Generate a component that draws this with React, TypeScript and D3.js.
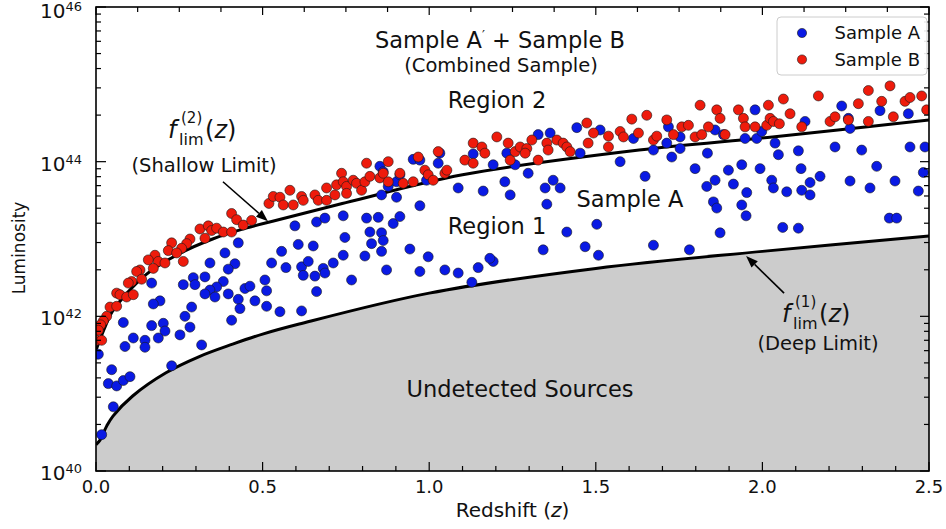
import React, { useEffect, useRef } from 'react';
import * as d3 from 'd3';

// values: redshift z and log10 of luminosity
const sampleA_z = [
  0.427, 0.387, 0.417, 0.342, 0.397, 0.527, 0.327, 0.292, 0.297, 0.262, 0.382, 0.362, 0.342, 0.327, 0.357, 0.397,
  0.427, 0.447, 0.462, 0.507, 0.512, 0.477, 0.512, 0.432, 0.552, 0.167, 0.192, 0.172, 0.287, 0.267, 0.082, 0.167,
  0.202, 0.207, 0.282, 0.252, 0.112, 0.087, 0.147, 0.147, 0.187, 0.317, 0.407, 0.007, 0.047, 0.037, 0.062, 0.082,
  0.102, 0.052, 0.017, 0.227, 0.570, 0.617, 0.617, 0.657, 0.662, 0.852, 0.862, 0.902, 0.912, 0.952, 0.972, 1.027,
  1.032, 0.992, 0.857, 0.902, 0.972, 1.087, 0.597, 0.662, 0.687, 0.742, 0.812, 0.847, 0.892, 0.912, 0.822, 0.857,
  0.862, 0.827, 0.747, 0.652, 0.607, 0.557, 0.637, 0.682, 0.687, 0.712, 0.742, 0.807, 0.857, 0.942, 0.997, 0.872,
  0.972, 1.047, 1.087, 0.767, 0.622, 1.147, 1.128, 1.192, 0.877, 1.132, 1.192, 1.233, 1.258, 1.327, 1.363, 1.443,
  1.513, 1.613, 1.453, 1.573, 1.227, 1.297, 1.372, 1.393, 1.348, 1.243, 1.353, 1.162, 1.182, 1.342, 1.413, 1.503,
  1.468, 1.508, 1.648, 1.673, 1.713, 1.718, 1.728, 1.753, 1.753, 1.798, 1.835, 1.858, 1.883, 1.948, 1.978, 1.983,
  1.998, 2.038, 2.048, 2.108, 2.128, 2.238, 2.258, 2.263, 2.353, 2.438, 2.218, 2.298, 2.443, 2.488, 2.483, 2.343,
  2.263, 2.323, 2.398, 2.468, 2.116, 2.143, 2.118, 2.143, 2.173, 2.028, 2.033, 2.073, 1.993, 1.938, 1.898, 1.913,
  1.953, 1.858, 1.833, 1.853, 1.863, 1.938, 1.951, 1.873, 2.061, 2.108, 2.381, 2.403, 1.673, 1.781,
];
const sampleA_logL = [
  42.95, 42.82, 42.68, 42.69, 42.61, 42.69, 42.51, 42.50, 42.41, 42.41, 42.45, 42.38, 42.34, 42.29, 42.25, 42.29,
  42.22, 42.36, 42.39, 42.47, 42.33, 42.20, 42.13, 42.10, 42.06, 42.43, 42.20, 42.16, 42.12, 42.00, 41.92, 41.88,
  41.91, 41.81, 41.86, 41.76, 41.72, 41.61, 41.69, 41.60, 41.72, 41.63, 41.95, 41.51, 41.31, 41.13, 41.10, 41.17,
  41.22, 40.83, 40.47, 41.36, 42.63, 42.64, 42.07, 42.52, 42.32, 43.94, 43.87, 43.74, 43.83, 44.03, 44.02, 43.98,
  44.11, 43.76, 43.57, 43.54, 43.43, 43.66, 43.17, 43.22, 43.27, 43.30, 43.27, 43.28, 43.20, 43.29, 43.09, 43.08,
  42.98, 42.94, 43.02, 42.91, 42.93, 42.84, 42.71, 42.62, 42.56, 42.69, 42.79, 42.78, 42.84, 42.87, 42.77, 42.60,
  42.58, 42.60, 42.56, 42.47, 42.53, 42.63, 42.44, 42.71, 43.68, 44.10, 43.96, 44.11, 43.96, 44.35, 44.37, 44.44,
  44.41, 44.30, 44.11, 44.00, 43.74, 43.85, 43.76, 43.66, 43.66, 43.57, 43.45, 43.62, 42.75, 42.86, 43.09, 43.19,
  42.90, 42.79, 43.81, 44.15, 44.24, 44.45, 44.06, 44.32, 44.17, 43.91, 44.11, 44.41, 44.35, 44.30, 44.67, 44.30,
  44.39, 44.24, 44.09, 44.14, 44.52, 44.72, 44.56, 44.43, 44.66, 44.62, 44.19, 44.15, 44.19, 44.19, 43.86, 43.94,
  43.75, 43.66, 43.75, 43.62, 43.91, 43.73, 43.63, 43.57, 43.81, 43.76, 43.66, 43.61, 43.91, 43.96, 43.89, 43.71,
  43.60, 43.76, 43.68, 43.48, 43.40, 43.44, 43.30, 43.08, 43.15, 43.14, 43.27, 43.27, 42.92, 42.86,
];

const sampleB_z = [
  0.407, 0.422, 0.442, 0.467, 0.519, 0.312, 0.327, 0.337, 0.347, 0.362, 0.382, 0.407, 0.282, 0.272, 0.257, 0.227,
  0.217, 0.242, 0.262, 0.177, 0.157, 0.187, 0.172, 0.207, 0.132, 0.122, 0.137, 0.107, 0.097, 0.062, 0.072, 0.092,
  0.112, 0.042, 0.062, 0.032, 0.022, 0.014, 0.007, 0.002, 0.017, 0.532, 0.552, 0.562, 0.582, 0.592, 0.617, 0.622,
  0.657, 0.667, 0.692, 0.692, 0.717, 0.722, 0.737, 0.742, 0.752, 0.772, 0.782, 0.797, 0.807, 0.812, 0.822, 0.852,
  0.862, 0.877, 0.877, 0.912, 0.922, 0.952, 0.967, 0.987, 0.997, 1.012, 1.047, 1.053, 0.752, 1.027, 1.107, 1.132,
  1.132, 1.158, 1.167, 1.203, 1.237, 1.243, 1.258, 1.273, 1.293, 1.288, 1.308, 1.327, 1.353, 1.357, 1.383, 1.402,
  1.413, 1.423, 1.473, 1.477, 1.493, 1.538, 1.538, 1.573, 1.583, 1.608, 1.628, 1.653, 1.673, 1.683, 1.713, 1.733,
  1.758, 1.778, 1.798, 1.818, 1.813, 1.838, 1.863, 1.873, 1.888, 1.928, 1.943, 1.948, 1.978, 2.013, 2.018, 2.023,
  2.033, 2.051, 2.063, 2.083, 2.118, 2.168, 2.203, 2.218, 2.258, 2.288, 2.318, 2.318, 2.358, 2.383, 2.393, 2.428,
  2.443, 2.478, 2.493,
];
const sampleB_logL = [
  43.33, 43.25, 43.18, 43.24, 43.46, 43.13, 43.01, 43.17, 43.11, 43.14, 43.09, 43.09, 43.00, 42.94, 42.88, 42.95,
  42.85, 42.82, 42.71, 42.79, 42.73, 42.71, 42.62, 42.69, 42.60, 42.58, 42.48, 42.45, 42.43, 42.30, 42.28, 42.25,
  42.28, 42.12, 42.13, 42.00, 41.94, 41.89, 41.82, 41.69, 41.69, 43.55, 43.54, 43.44, 43.63, 43.44, 43.55, 43.50,
  43.57, 43.50, 43.50, 43.66, 43.57, 43.70, 43.85, 43.74, 43.68, 43.76, 43.72, 43.63, 43.74, 43.98, 43.81, 43.79,
  43.85, 44.00, 43.74, 43.85, 43.72, 43.74, 44.06, 43.89, 43.83, 43.76, 43.85, 43.89, 43.59, 44.13, 44.02, 44.24,
  43.98, 44.19, 44.11, 44.32, 44.24, 44.02, 44.13, 44.19, 44.17, 44.11, 44.28, 44.02, 44.24, 44.15, 44.28, 44.24,
  44.19, 44.13, 44.50, 44.24, 44.37, 44.33, 44.19, 44.39, 44.32, 44.55, 44.37, 44.60, 44.28, 44.33, 44.54, 44.35,
  44.45, 44.47, 44.32, 44.35, 44.73, 44.45, 44.67, 44.56, 44.35, 44.67, 44.56, 44.45, 44.45, 44.47, 44.73, 44.56,
  44.52, 44.49, 44.81, 44.62, 44.45, 44.85, 44.52, 44.58, 44.54, 44.75, 44.52, 44.92, 44.78, 44.98, 44.58, 44.78,
  44.83, 44.85, 44.67,
];

// detection limit curves
const deepLimit_z = [0, 0.012, 0.032, 0.051, 0.11, 0.21, 0.31, 0.41, 0.5, 0.61, 1.0, 1.5, 2.0, 2.5];
const deepLimit_logL = [40.34, 40.4, 40.58, 40.71, 40.97, 41.27, 41.48, 41.64, 41.77, 41.9, 42.3, 42.62, 42.84, 43.04];
const shallowLimit_z = [0, 0.012, 0.027, 0.05, 0.15, 0.25, 0.35, 0.45, 0.53, 0.75, 1.1, 1.63, 2.03, 2.5];
const shallowLimit_logL = [41.56, 41.7, 41.86, 42.07, 42.54, 42.81, 43.0, 43.14, 43.23, 43.47, 43.83, 44.15, 44.32, 44.54];

// arrows: [z, logL] start -> end
const shallowArrow = [[0.381, 43.74], [0.516, 43.23]];
const deepArrow = [[2.065, 42.3], [1.951, 42.78]];

const xMajorTicks = [0, 0.5, 1.0, 1.5, 2.0, 2.5];
const yMajorExponents = [40, 42, 44, 46];
const legendLabels = ['Sample A', 'Sample B'];

const W = 946;
const H = 529;
const margin = { top: 7, right: 17, bottom: 58, left: 96 };
const BLUE = '#0a1ae4';
const RED = '#ee1b0c';
const FONT = '"DejaVu Sans", Verdana, sans-serif';

const App = () => {
  const svgRef = useRef(null);

  useEffect(() => {
    const svg = d3.select(svgRef.current);
    svg.selectAll('*').remove();

    const x = d3.scaleLinear().domain([0, 2.5]).range([margin.left, W - margin.right]);
    const y = d3.scaleLog().domain([1e40, 1e46]).range([H - margin.bottom, margin.top]);
    const x0 = margin.left, x1 = W - margin.right, y0 = margin.top, y1 = H - margin.bottom;

    svg.append('defs').append('clipPath').attr('id', 'plot-clip')
      .append('rect').attr('x', x0).attr('y', y0).attr('width', x1 - x0).attr('height', y1 - y0);

    const plot = svg.append('g').attr('clip-path', 'url(#plot-clip)');
    plot.append('rect').attr('x', x0).attr('y', y0).attr('width', x1 - x0).attr('height', y1 - y0).attr('fill', '#fff');

    const deep = deepLimit_z.map((z, i) => [z, deepLimit_logL[i]]);
    const shallow = shallowLimit_z.map((z, i) => [z, shallowLimit_logL[i]]);

    const curve = d3.curveCatmullRom.alpha(0.5);
    const area = d3.area()
      .x(d => x(d[0]))
      .y0(y(1e40))
      .y1(d => y(Math.pow(10, d[1])))
      .curve(curve);
    const line = d3.line()
      .x(d => x(d[0]))
      .y(d => y(Math.pow(10, d[1])))
      .curve(curve);

    plot.append('path').attr('d', area(deep)).attr('fill', '#cccccc');
    plot.append('path').attr('d', line(deep)).attr('fill', 'none').attr('stroke', '#000').attr('stroke-width', 3);
    plot.append('path').attr('d', line(shallow)).attr('fill', 'none').attr('stroke', '#000').attr('stroke-width', 3);

    const ptsA = sampleA_z.map((z, i) => [z, sampleA_logL[i]]);
    const ptsB = sampleB_z.map((z, i) => [z, sampleB_logL[i]]);
    [[ptsA, BLUE], [ptsB, RED]].forEach(([pts, color]) => {
      plot.append('g').selectAll('circle')
        .data(pts)
        .enter()
        .append('circle')
        .attr('cx', d => x(d[0]))
        .attr('cy', d => y(Math.pow(10, d[1])))
        .attr('r', 5)
        .attr('fill', color)
        .attr('stroke', '#1a1a1a')
        .attr('stroke-width', 0.6);
    });

    // arrows
    const drawArrow = (a) => {
      const [sx, sy] = [x(a[0][0]), y(Math.pow(10, a[0][1]))];
      const [ex, ey] = [x(a[1][0]), y(Math.pow(10, a[1][1]))];
      const ang = Math.atan2(ey - sy, ex - sx);
      const len = 12, half = 4.5;
      const bx = ex - len * Math.cos(ang), by = ey - len * Math.sin(ang);
      svg.append('line').attr('x1', sx).attr('y1', sy).attr('x2', bx).attr('y2', by)
        .attr('stroke', '#000').attr('stroke-width', 1.6);
      const px = -Math.sin(ang) * half, py = Math.cos(ang) * half;
      svg.append('path')
        .attr('d', `M${ex},${ey}L${bx + px},${by + py}L${bx - px},${by - py}Z`)
        .attr('fill', '#000');
    };
    drawArrow(shallowArrow);
    drawArrow(deepArrow);

    // ticks, all pointing inward
    const ticks = svg.append('g').attr('stroke', '#000').attr('stroke-width', 1.2);
    const xMinorBottom = d3.range(0, 2.5001, 0.1).filter(v => Math.abs(v * 2 - Math.round(v * 2)) > 1e-6);
    const xMinorTop = d3.range(0, 2.5001, 0.125).filter(v => Math.abs(v * 2 - Math.round(v * 2)) > 1e-6);
    xMajorTicks.forEach(v => {
      ticks.append('line').attr('x1', x(v)).attr('x2', x(v)).attr('y1', y1).attr('y2', y1 - 9);
      ticks.append('line').attr('x1', x(v)).attr('x2', x(v)).attr('y1', y0).attr('y2', y0 + 8);
    });
    xMinorBottom.forEach(v => {
      ticks.append('line').attr('x1', x(v)).attr('x2', x(v)).attr('y1', y1).attr('y2', y1 - 5);
    });
    xMinorTop.forEach(v => {
      ticks.append('line').attr('x1', x(v)).attr('x2', x(v)).attr('y1', y0).attr('y2', y0 + 5);
    });
    yMajorExponents.forEach(e => {
      const yy = y(Math.pow(10, e));
      ticks.append('line').attr('x1', x0).attr('x2', x0 + 10).attr('y1', yy).attr('y2', yy);
      ticks.append('line').attr('x1', x1).attr('x2', x1 - 9).attr('y1', yy).attr('y2', yy);
    });
    yMajorExponents.slice(0, -1).forEach(e => {
      d3.range(2, 10).forEach(k => {
        const yy = y(k * k * Math.pow(10, e));
        ticks.append('line').attr('x1', x0).attr('x2', x0 + 5).attr('y1', yy).attr('y2', yy);
        ticks.append('line').attr('x1', x1).attr('x2', x1 - 5).attr('y1', yy).attr('y2', yy);
      });
    });

    // frame
    svg.append('rect').attr('x', x0).attr('y', y0).attr('width', x1 - x0).attr('height', y1 - y0)
      .attr('fill', 'none').attr('stroke', '#000').attr('stroke-width', 1.6);

    // tick labels
    const fmt = d3.format('.1f');
    svg.append('g').selectAll('text')
      .data(xMajorTicks)
      .enter()
      .append('text')
      .attr('x', d => x(d))
      .attr('y', 493)
      .attr('text-anchor', 'middle')
      .attr('font-size', 18)
      .attr('fill', '#111')
      .text(d => fmt(d));

    yMajorExponents.forEach(e => {
      const t = svg.append('text')
        .attr('x', 82)
        .attr('y', Math.max(y(Math.pow(10, e)) + 9, 18))
        .attr('text-anchor', 'end')
        .attr('fill', '#111');
      t.append('tspan').attr('font-size', 20).text('10');
      t.append('tspan').attr('font-size', 13).attr('dy', -7).text(String(e));
    });

    // axis titles
    svg.append('text')
      .attr('transform', 'translate(25,248) rotate(-90)')
      .attr('text-anchor', 'middle')
      .attr('font-size', 17)
      .attr('fill', '#111')
      .text('Luminosity');
    const xt = svg.append('text')
      .attr('x', (x0 + x1) / 2)
      .attr('y', 517)
      .attr('text-anchor', 'middle')
      .attr('font-size', 20)
      .attr('fill', '#111');
    xt.append('tspan').text('Redshift (');
    xt.append('tspan').attr('font-style', 'italic').text('z');
    xt.append('tspan').text(')');

    // region labels
    const label = (tx, ty, size, txt) =>
      svg.append('text').attr('x', tx).attr('y', ty).attr('text-anchor', 'middle')
        .attr('font-size', size).attr('fill', '#111').text(txt);

    const title = svg.append('text').attr('x', 500).attr('y', 48).attr('text-anchor', 'middle')
      .attr('font-size', 22.5).attr('fill', '#111');
    title.append('tspan').text('Sample A');
    title.append('tspan').attr('font-size', 13).attr('dy', -9).text('′');
    title.append('tspan').attr('dy', 9).text(' + Sample B');
    label(501, 72, 19.5, '(Combined Sample)');
    label(497, 108, 22.5, 'Region 2');
    label(497, 234, 22.5, 'Region 1');
    label(630, 207, 22.5, 'Sample A');
    label(520, 397, 22.5, 'Undetected Sources');

    // limit labels f_lim^(n)(z)
    const flim = (cx, b, n, sub, sb) => {
      svg.append('text').attr('x', cx - 36).attr('y', b).attr('font-size', 24)
        .attr('font-style', 'italic').attr('fill', '#111').text('f');
      svg.append('text').attr('x', cx - 23).attr('y', b - 15).attr('font-size', 15)
        .attr('fill', '#111').text(`(${n})`);
      svg.append('text').attr('x', cx - 25).attr('y', b + 7).attr('font-size', 16)
        .attr('fill', '#111').text('lim');
      const zt = svg.append('text').attr('x', cx + 1).attr('y', b).attr('font-size', 24).attr('fill', '#111');
      zt.append('tspan').text('(');
      zt.append('tspan').attr('font-style', 'italic').text('z');
      zt.append('tspan').text(')');
      label(cx, sb, 19.5, sub);
    };
    flim(204, 138, 2, '(Shallow Limit)', 172);
    flim(818, 322, 1, '(Deep Limit)', 350);

    // legend
    const lg = svg.append('g');
    lg.append('rect').attr('x', 777).attr('y', 17).attr('width', 150).attr('height', 58).attr('rx', 4)
      .attr('fill', '#fff').attr('fill-opacity', 0.9).attr('stroke', '#cccccc').attr('stroke-width', 1);
    legendLabels.forEach((name, i) => {
      const ly = 33 + i * 26.5;
      lg.append('circle').attr('cx', 802).attr('cy', ly).attr('r', 4.6)
        .attr('fill', i === 0 ? BLUE : RED).attr('stroke', '#1a1a1a').attr('stroke-width', 0.6);
      lg.append('text').attr('x', 920).attr('y', ly + 6).attr('text-anchor', 'end')
        .attr('font-size', 18).attr('fill', '#111').text(name);
    });
  }, []);

  return (
    <div style={{ position: 'absolute', left: 0, top: 0, width: W, height: H, background: '#fff' }}>
      <svg ref={svgRef} width={W} height={H} style={{ display: 'block', fontFamily: FONT }}></svg>
    </div>
  );
};

export default App;
